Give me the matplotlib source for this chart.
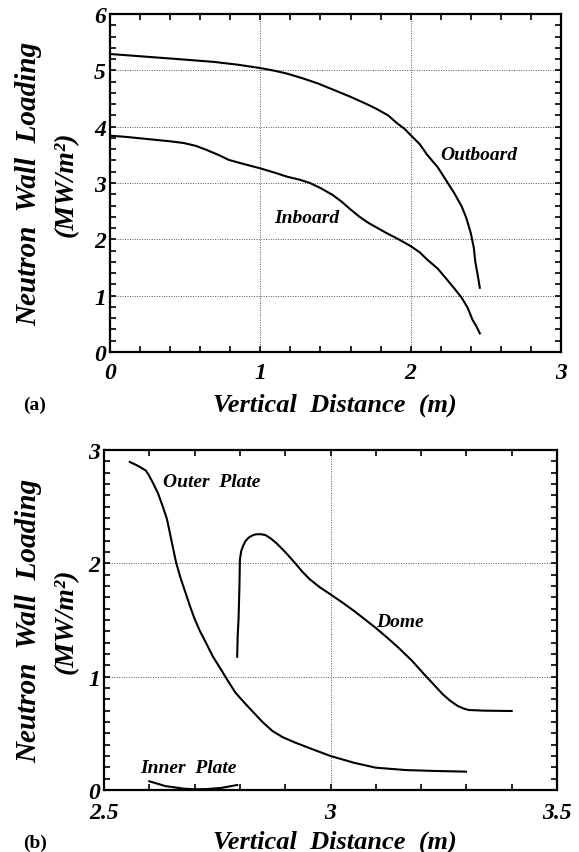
import matplotlib
matplotlib.use("Agg")
import matplotlib.pyplot as plt
from matplotlib.ticker import MultipleLocator, FuncFormatter

# panel (a): wall loading vs vertical distance
out_x = [0.0, 0.1, 0.25, 0.45, 0.69, 0.85, 1.0, 1.1, 1.18, 1.28, 1.38, 1.5, 1.6, 1.7, 1.77,
         1.85, 1.91, 1.96, 2.0, 2.06, 2.11, 2.18, 2.24, 2.29, 2.34, 2.37, 2.40, 2.42, 2.43,
         2.445, 2.46]
out_y = [5.29, 5.27, 5.24, 5.20, 5.15, 5.10, 5.04, 4.99, 4.94, 4.86, 4.77, 4.64, 4.53, 4.41,
         4.32, 4.20, 4.06, 3.96, 3.85, 3.69, 3.50, 3.28, 3.03, 2.82, 2.58, 2.38, 2.11, 1.85,
         1.60, 1.38, 1.14]
in_x = [0.0, 0.1, 0.25, 0.4, 0.49, 0.57, 0.64, 0.72, 0.79, 0.9, 1.0, 1.1, 1.18, 1.26, 1.33,
        1.4, 1.48, 1.54, 1.6, 1.66, 1.72, 1.78, 1.84, 1.92, 2.0, 2.06, 2.11, 2.18, 2.24, 2.29,
        2.34, 2.38, 2.41, 2.44, 2.46]
in_y = [3.84, 3.82, 3.78, 3.74, 3.71, 3.66, 3.59, 3.50, 3.41, 3.33, 3.26, 3.18, 3.11, 3.06,
        3.0, 2.91, 2.79, 2.67, 2.53, 2.40, 2.29, 2.20, 2.11, 2.0, 1.88, 1.77, 1.64, 1.48, 1.29,
        1.13, 0.96, 0.78, 0.58, 0.44, 0.33]

# panel (b): divertor region
op_x = [2.557, 2.570, 2.582, 2.592, 2.598, 2.608, 2.619, 2.629, 2.639, 2.649, 2.659, 2.669,
        2.680, 2.690, 2.700, 2.712, 2.725, 2.740, 2.758, 2.774, 2.790, 2.810, 2.831, 2.850,
        2.872, 2.895, 2.921, 2.960, 3.0, 3.052, 3.10, 3.166, 3.23, 3.299]
op_y = [2.894, 2.87, 2.844, 2.82, 2.785, 2.71, 2.62, 2.51, 2.39, 2.20, 2.01, 1.87, 1.74, 1.62,
        1.51, 1.40, 1.30, 1.18, 1.065, 0.96, 0.86, 0.77, 0.68, 0.60, 0.52, 0.465, 0.42, 0.36,
        0.30, 0.24, 0.197, 0.176, 0.168, 0.162]
ip_x = [2.60, 2.635, 2.676, 2.70, 2.725, 2.758, 2.794]
ip_y = [0.077, 0.035, 0.012, 0.006, 0.008, 0.018, 0.044]
dome_x = [2.794, 2.795, 2.797, 2.799, 2.80, 2.803, 2.807, 2.812, 2.819, 2.827, 2.835, 2.846,
          2.856, 2.868, 2.880, 2.90, 2.921, 2.937, 2.954, 2.976, 3.0, 3.026, 3.052, 3.076,
          3.10, 3.125, 3.15, 3.18, 3.207, 3.228, 3.248, 3.265, 3.281, 3.293, 3.305, 3.34, 3.40]
dome_y = [1.176, 1.35, 1.506, 1.80, 2.035, 2.11, 2.153, 2.195, 2.226, 2.245, 2.256, 2.257,
          2.25, 2.22, 2.18, 2.10, 2.006, 1.93, 1.86, 1.79, 1.726, 1.655, 1.58, 1.505, 1.43,
          1.345, 1.256, 1.14, 1.02, 0.93, 0.844, 0.785, 0.741, 0.72, 0.706, 0.70, 0.697]

W, H = 579, 853
ff = 'Liberation Serif'
lab = dict(family=ff, weight='bold', style='italic')


def fx(px):
    return px / W


def fy(py):
    return 1 - py / H


def style_axes(ax, xmaj, xmin, ymaj, ymin, xpad):
    ax.xaxis.set_major_locator(MultipleLocator(xmaj))
    ax.xaxis.set_minor_locator(MultipleLocator(xmin))
    ax.yaxis.set_major_locator(MultipleLocator(ymaj))
    ax.yaxis.set_minor_locator(MultipleLocator(ymin))
    fmt = FuncFormatter(lambda v, p: '%g' % round(v, 3))
    ax.xaxis.set_major_formatter(fmt)
    ax.yaxis.set_major_formatter(fmt)
    ax.tick_params(which='both', direction='in', top=True, right=True,
                   length=4.5, width=1.2, labelsize=17)
    ax.tick_params(axis='x', pad=xpad)
    ax.tick_params(axis='y', pad=3)
    for lb in ax.get_xticklabels() + ax.get_yticklabels():
        lb.set_family(ff)
        lb.set_weight('bold')
        lb.set_style('italic')
    for s in ax.spines.values():
        s.set_linewidth(1.6)
    ax.grid(True, which='major', linestyle=(0, (1, 1.5)), color='#555555', linewidth=0.7)


fig = plt.figure(figsize=(5.79, 8.53), dpi=100)

ax1 = fig.add_axes([fx(110), fy(353), fx(561 - 110), (353 - 15) / H])
ax1.plot(out_x, out_y, color='black', lw=1.5)
ax1.plot(in_x, in_y, color='black', lw=1.5)
ax1.set_xlim(0, 3)
ax1.set_ylim(0, 6)
style_axes(ax1, 1, 0.2, 1, 0.2, 7)
ax1.text(2.45, 3.5, 'Outboard', ha='center', va='center', fontsize=14, **lab)
ax1.text(1.31, 2.38, 'Inboard', ha='center', va='center', fontsize=14, **lab)

ax2 = fig.add_axes([fx(104), fy(791), fx(557 - 104), (791 - 451) / H])
ax2.plot(op_x, op_y, color='black', lw=1.5)
ax2.plot(ip_x, ip_y, color='black', lw=1.5)
ax2.plot(dome_x, dome_y, color='black', lw=1.5)
ax2.set_xlim(2.5, 3.5)
ax2.set_ylim(0, 3)
style_axes(ax2, 0.5, 0.1, 1, 0.1, 9)
ax2.text(2.737, 2.72, 'Outer  Plate', ha='center', va='center', fontsize=14, **lab)
ax2.text(3.154, 1.49, 'Dome', ha='center', va='center', fontsize=14, **lab)
ax2.text(2.686, 0.197, 'Inner  Plate', ha='center', va='center', fontsize=14, **lab)

# axis titles and panel tags
for cy, xly, tag, tagy in [(184, 405, '(a)', 405), (621, 842, '(b)', 843)]:
    fig.text(fx(29), fy(cy), 'Neutron  Wall  Loading', rotation=90,
             ha='center', va='center', fontsize=21, **lab)
    fig.text(fx(66), fy(cy), '(MW/m²)', rotation=90,
             ha='center', va='center', fontsize=20, **lab)
    fig.text(fx(335), fy(xly), 'Vertical  Distance  (m)', ha='center', va='center',
             fontsize=19, **lab)
    fig.text(fx(35), fy(tagy), tag, ha='center', va='center', fontsize=14,
             family=ff, weight='bold')

fig.savefig('out.png', dpi=100)
